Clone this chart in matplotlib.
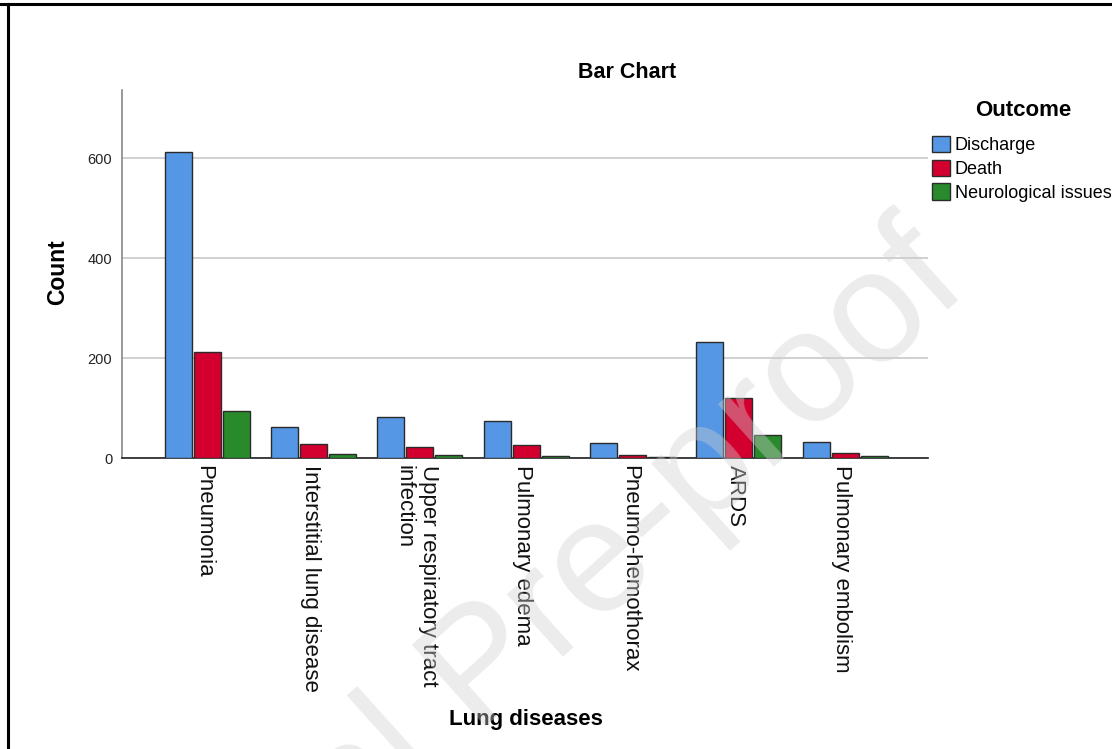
import matplotlib
matplotlib.use("Agg")
import matplotlib.pyplot as plt
from matplotlib.lines import Line2D
import numpy as np

plt.rcParams['font.family'] = ['Liberation Sans', 'DejaVu Sans']

categories = ["Pneumonia", "Interstitial lung disease", "Upper respiratory tract\ninfection",
              "Pulmonary edema", "Pneumo-hemothorax", "ARDS", "Pulmonary embolism"]
series_names = ["Discharge", "Death", "Neurological issues"]
discharge = [612, 62, 82, 74, 30, 232, 32]
death = [212, 28, 22, 26, 6, 120, 10]
neuro = [94, 8, 6, 4, 2, 46, 4]
colors = ["#5597e5", "#d3002f", "#288a2a"]
yticks = [0, 200, 400, 600]

W, H = 1112, 749
fig = plt.figure(figsize=(W / 100, H / 100), dpi=100)
ax = fig.add_axes([122 / W, 1 - 458 / H, (928 - 122) / W, (458 - 90) / H])

x = np.arange(len(categories))
width = 0.254
offset = 0.273
for i, (vals, name) in enumerate(zip([discharge, death, neuro], series_names)):
    ax.bar(x + (i - 1) * offset, vals, width=width, color=colors[i],
           edgecolor="#2b2b2b", linewidth=1.0, label=name, zorder=3)

ax.set_xlim(-0.80, 6.78)
ax.set_ylim(0, 736)
ax.set_yticks(yticks)
ax.set_yticklabels([str(v) for v in yticks], fontsize=10.5, color="#222222")
ax.tick_params(axis='y', length=0, pad=7)
ax.set_xticks(x)
ax.set_xticklabels([])
ax.tick_params(axis='x', length=0)
for xi, lab in zip(x, categories):
    ax.text(xi - 0.03, -14, lab, rotation=270, ha='center', va='top', fontsize=16,
            multialignment='left', color="#111111", transform=ax.transData, clip_on=False)

ax.grid(axis='y', color="#c8c8c8", linewidth=1.2, zorder=0)
for s in ['top', 'right']:
    ax.spines[s].set_visible(False)
ax.spines['left'].set_color("#888888")
ax.spines['left'].set_linewidth(1.2)
ax.spines['bottom'].set_color("#222222")
ax.spines['bottom'].set_linewidth(1.2)

fig.text(627 / W, 1 - 72 / H, "Bar Chart", ha='center', va='center', fontsize=15.5, fontweight='bold')
fig.text(58 / W, 1 - 272 / H, "Count", ha='center', va='center', rotation=90, fontsize=16.5, fontweight='bold')
fig.text(526 / W, 1 - 720 / H, "Lung diseases", ha='center', va='center', fontsize=16, fontweight='bold')

leg = fig.legend(loc='upper left', bbox_to_anchor=(932 / W, 1 - 136 / H), frameon=False,
                 fontsize=13, borderpad=0, handlelength=1.0, handleheight=1.0,
                 handletextpad=0.25, labelspacing=0.3, borderaxespad=0)
fig.text(1023 / W, 1 - 111 / H, "Outcome", ha='center', va='center', fontsize=16, fontweight='bold')

# border lines
fig.add_artist(Line2D([0, 1], [1 - 4 / H, 1 - 4 / H], transform=fig.transFigure, color='black', linewidth=2.2))
fig.add_artist(Line2D([8 / W, 8 / W], [0, 1 - 4 / H], transform=fig.transFigure, color='black', linewidth=2.2))

# watermark
fig.text(485 / W, 1 - 672 / H, "Journal Pre-proof", rotation=42, ha='center', va='center',
         fontsize=115, color="#cfcfcf", alpha=0.4, zorder=10)

fig.savefig("out.png", dpi=100)
